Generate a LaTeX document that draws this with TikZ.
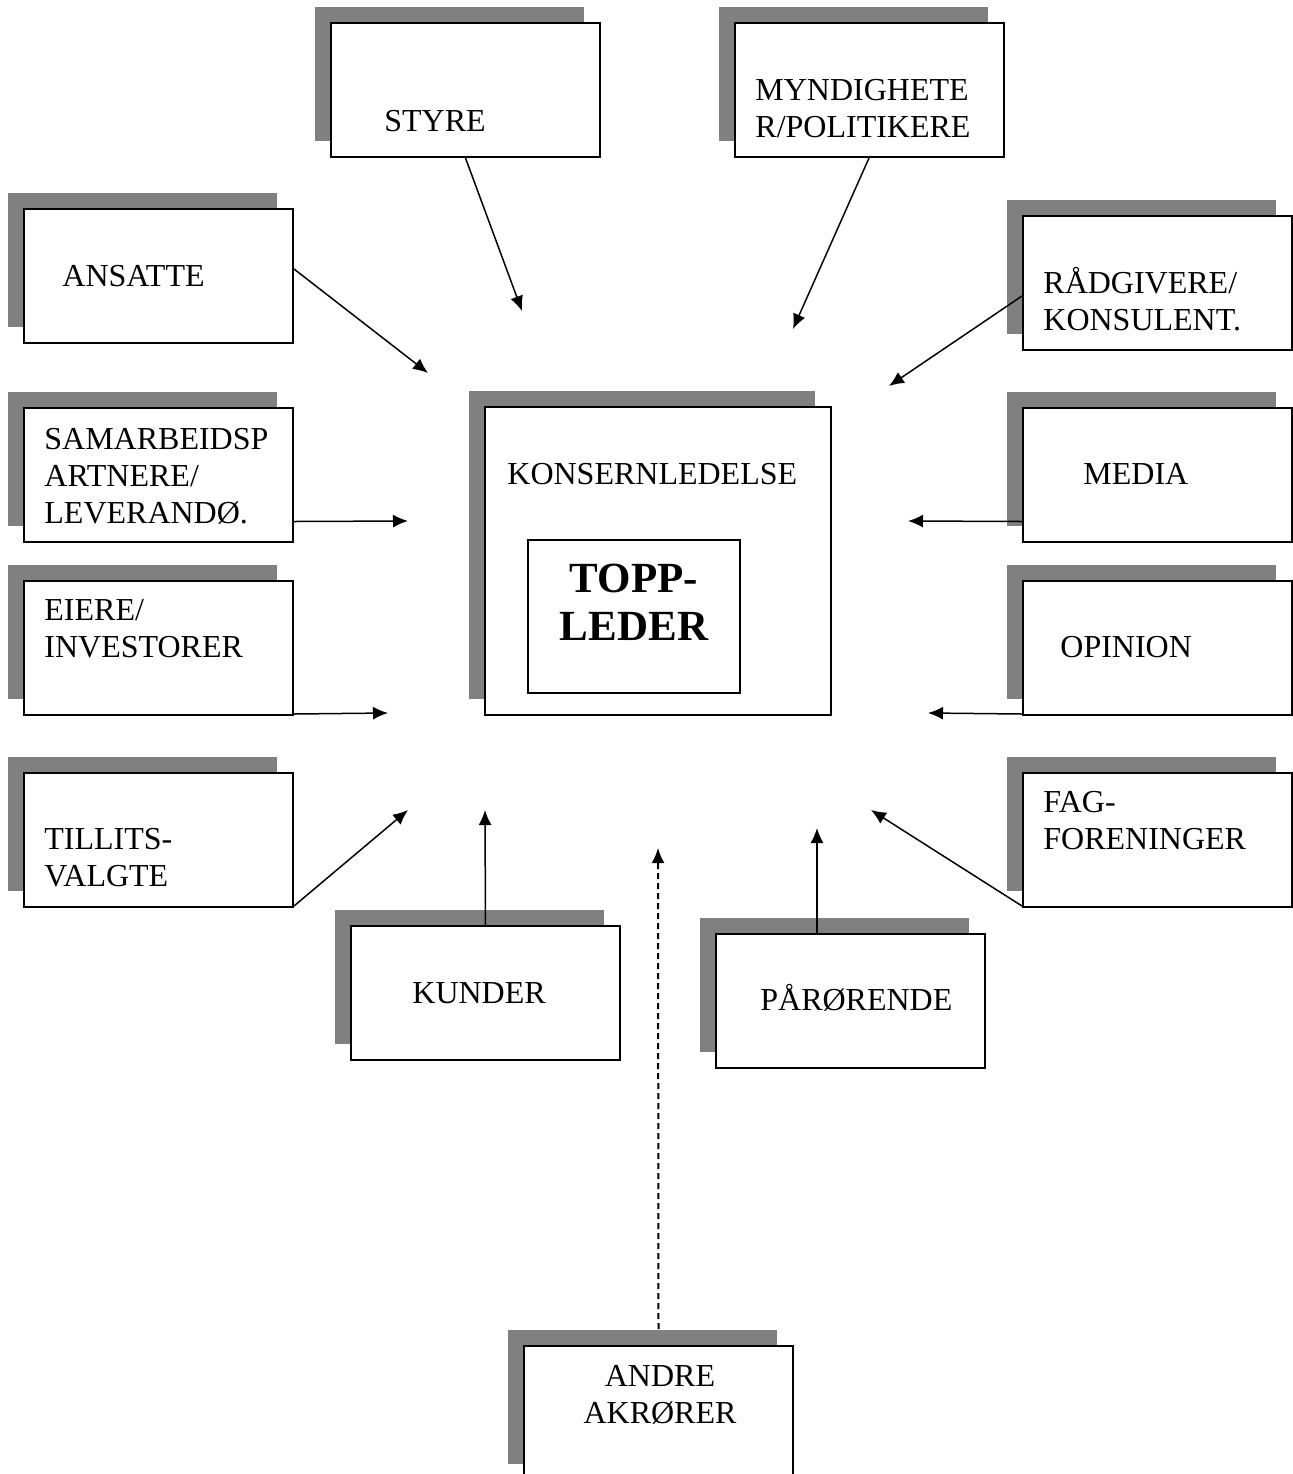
\documentclass[tikz,border=0pt]{standalone}
\usepackage{fontspec}
\setmainfont{Liberation Serif}
\usepackage{tikz}
\usetikzlibrary{arrows.meta, shadows}
\tikzstyle{arrow} = [line width=0.75pt, -{Latex[length=7.5pt, width=6.5pt]}]
\tikzstyle{box} = [rectangle, draw, line width=1pt, fill=white, minimum width=134.5pt, minimum height=67pt, inner sep=0pt, drop shadow={shadow xshift=-8pt, shadow yshift=8pt, fill=black!50, opacity=1}]
\tikzstyle{txt} = [anchor=base west, inner sep=0pt, align=left, font=\fontsize{16}{18.5}\selectfont]
\newcommand{\bigtxt}{\fontsize{21.5}{24}\selectfont\bfseries}

\begin{document}
\begin{tikzpicture}[x=0.5pt, y=-0.5pt]
            \path[use as bounding box, clip] (0,0) rectangle (1293,1474);

            \node (konsern) [box, minimum width=173pt, minimum height=154pt] at (658,561) {};
            \node (tkonsern) [txt] at (507,484) {KONSERNLEDELSE};
            \node (topp) [rectangle, draw, line width=0.75pt, minimum width=106pt, minimum height=76.5pt] at (634,616.5) {};
            \node (ttopp) [txt, anchor=base, align=center, font=\bigtxt] at (634,640) {TOPP-\\LEDER};

            \node (styre) [box] at (465.5,90) {};
            \node (tstyre) [txt] at (384,131) {STYRE};
            \node (myndig) [box] at (869,90) {};
            \node (tmyndig) [txt] at (755,137) {MYNDIGHETE\\R/POLITIKERE};
            \node (ansatte) [box] at (158.5,276) {};
            \node (tansatte) [txt] at (62,286) {ANSATTE};
            \node (raadgiv) [box] at (1157.5,283) {};
            \node (traadgiv) [txt] at (1043,330) {RÅDGIVERE/\\KONSULENT.};
            \node (samarb) [box] at (158.5,474.5) {};
            \node (tsamarb) [txt] at (44,523) {SAMARBEIDSP\\ARTNERE/\\LEVERANDØ.};
            \node (media) [box] at (1157.5,474.5) {};
            \node (tmedia) [txt] at (1083,484) {MEDIA};
            \node (eiere) [box] at (158.5,648) {};
            \node (teiere) [txt] at (44,657) {EIERE/\\INVESTORER};
            \node (opinion) [box] at (1157.5,648) {};
            \node (topinion) [txt] at (1060,657) {OPINION};
            \node (tillits) [box] at (158.5,840) {};
            \node (ttillits) [txt] at (44,886) {TILLITS-\\VALGTE};
            \node (fag) [box] at (1157.5,840) {};
            \node (tfag) [txt] at (1043,849) {FAG-\\FORENINGER};
            \node (kunder) [box] at (485.5,993) {};
            \node (tkunder) [txt] at (412,1003) {KUNDER};
            \node (paaror) [box] at (850.5,1001) {};
            \node (tpaaror) [txt] at (760,1010) {PÅRØRENDE};
            \node (andre) [box] at (658.5,1413) {};
            \node (tandre) [txt, anchor=base, align=center] at (660,1423) {ANDRE\\AKRØRER};

            \coordinate (estyre) at (522,311);
            \coordinate (emyndig) at (793,329);
            \coordinate (eansatte) at (428,373);
            \coordinate (eraadgiv) at (889,386);
            \coordinate (esamarb) at (408,521);
            \coordinate (emedia) at (908,521);
            \coordinate (eeiere) at (388,713);
            \coordinate (eopinion) at (928,713);
            \coordinate (etillits) at (408,810);
            \coordinate (efag) at (871,810);
            \coordinate (ekunder) at (485,810);
            \coordinate (epaaror) at (817,828);
            \coordinate (eandre) at (658,848);

            \draw [arrow] (styre.south) -- (estyre);
            \draw [arrow] (myndig.south) -- (emyndig);
            \draw [arrow] ([yshift=3.5pt]ansatte.east) -- (eansatte);
            \draw [arrow] ([yshift=-6.5pt]raadgiv.west) -- (eraadgiv);
            \draw [arrow] ([yshift=10.5pt]samarb.south east) -- (esamarb);
            \draw [arrow] ([yshift=10.5pt]media.south west) -- (emedia);
            \draw [arrow] ([yshift=1pt]eiere.south east) -- (eeiere);
            \draw [arrow] ([yshift=1pt]opinion.south west) -- (eopinion);
            \draw [arrow] ([yshift=1pt]tillits.south east) -- (etillits);
            \draw [arrow] ([yshift=1pt]fag.south west) -- (efag);
            \draw [arrow] (kunder.north) -- (ekunder);
            \draw [arrow] ([xshift=-16.75pt]paaror.north) -- (epaaror);
            \draw [arrow, line width=1pt, dash pattern=on 3pt off 2pt] ([yshift=8pt]andre.north) -- (eandre);
\end{tikzpicture}
\end{document}
